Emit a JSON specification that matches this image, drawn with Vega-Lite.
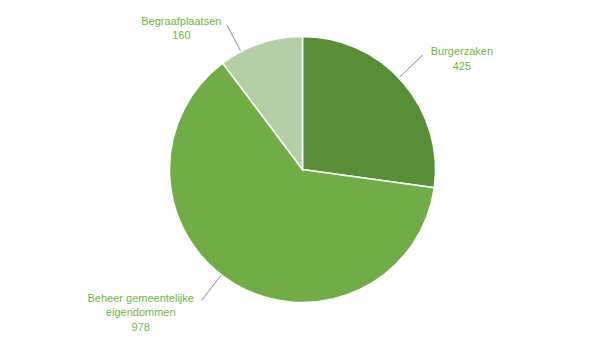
{
  "$schema": "https://vega.github.io/schema/vega-lite/v6.json",
  "width": 605,
  "height": 339,
  "autosize": "none",
  "padding": 0,
  "background": "white",
  "view": {"stroke": null},
  "config": {"text": {"font": "Liberation Sans", "fontSize": 11, "fill": "#72B543", "lineBreak": "\n", "lineHeight": 14.5, "align": "center", "baseline": "middle"}},
  "data": {"values": [
    {"category": "Burgerzaken", "label": "Burgerzaken", "value": 425, "order": 1},
    {"category": "Beheer gemeentelijke eigendommen", "label": "Beheer gemeentelijke\neigendommen", "value": 978, "order": 2},
    {"category": "Begraafplaatsen", "label": "Begraafplaatsen", "value": 160, "order": 3}
  ]},
  "transform": [
    {"stack": "value", "groupby": [], "sort": [{"field": "order", "order": "ascending"}], "as": ["start", "end"]},
    {"calculate": "(datum.start + datum.end) / 2", "as": "mid"},
    {"calculate": "datum.label + '\\n' + datum.value", "as": "text"}
  ],
  "layer": [
    {
      "mark": {"type": "arc", "radius": 133, "stroke": "white", "strokeWidth": 1.5},
      "encoding": {
        "theta": {"field": "start", "type": "quantitative", "stack": null, "scale": {"domain": [0, 1563], "range": [0, 6.283185307179586], "zero": true, "nice": false}},
        "theta2": {"field": "end"},
        "color": {"field": "category", "type": "nominal", "legend": null,
          "scale": {"domain": ["Burgerzaken", "Beheer gemeentelijke eigendommen", "Begraafplaatsen"], "range": ["#598E38", "#70AD47", "#B4CFA6"]}}
      }
    },
    {
      "transform": [{"filter": "datum.order == 1"}],
      "mark": {"type": "arc", "radius": 166, "radius2": 134, "thetaOffset": -0.044, "theta2Offset": -0.044, "filled": false, "stroke": "#A6A6A6", "strokeWidth": 1},
      "encoding": {
        "theta": {"field": "mid", "type": "quantitative", "stack": null},
        "theta2": {"field": "mid"}
      }
    },
    {
      "transform": [{"filter": "datum.order == 2"}],
      "mark": {"type": "arc", "radius": 165, "radius2": 134, "thetaOffset": 0.124, "theta2Offset": 0.124, "filled": false, "stroke": "#A6A6A6", "strokeWidth": 1},
      "encoding": {
        "theta": {"field": "mid", "type": "quantitative", "stack": null},
        "theta2": {"field": "mid"}
      }
    },
    {
      "transform": [{"filter": "datum.order == 3"}],
      "mark": {"type": "arc", "radius": 163, "radius2": 134, "thetaOffset": -0.16, "theta2Offset": -0.16, "filled": false, "stroke": "#A6A6A6", "strokeWidth": 1},
      "encoding": {
        "theta": {"field": "mid", "type": "quantitative", "stack": null},
        "theta2": {"field": "mid"}
      }
    },
    {
      "transform": [{"filter": "datum.order == 1"}],
      "mark": {"type": "text", "radius": 165, "dx": 35, "dy": -9},
      "encoding": {
        "theta": {"field": "mid", "type": "quantitative", "stack": null},
        "text": {"field": "text"}
      }
    },
    {
      "transform": [{"filter": "datum.order == 2"}],
      "mark": {"type": "text", "radius": 165, "dx": -78, "dy": -13},
      "encoding": {
        "theta": {"field": "mid", "type": "quantitative", "stack": null},
        "text": {"field": "text"}
      }
    },
    {
      "transform": [{"filter": "datum.order == 3"}],
      "mark": {"type": "text", "radius": 165, "dx": -69, "dy": 9},
      "encoding": {
        "theta": {"field": "mid", "type": "quantitative", "stack": null},
        "text": {"field": "text"}
      }
    }
  ]
}
